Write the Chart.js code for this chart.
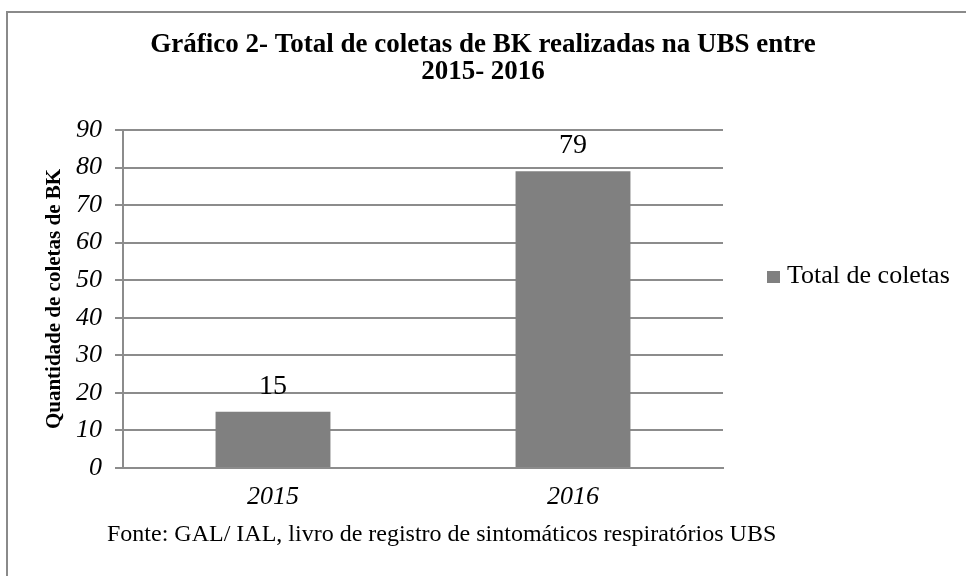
<!DOCTYPE html>
<html>
<head>
<meta charset="utf-8">
<script src="https://cdn.jsdelivr.net/npm/chart.js@4.4.1/dist/chart.umd.min.js"></script>
<style>
  html, body { margin: 0; padding: 0; background: #fff; overflow: hidden; }
  #frame {
    position: absolute; left: 6px; top: 11px; width: 2000px; height: 2000px;
    border-left: 2px solid #8a8a8a; border-top: 2px solid #8a8a8a;
  }
  #wrap { position: absolute; left: 0; top: 0; width: 966px; height: 576px; }
</style>
</head>
<body>
<div id="frame"></div>
<div id="wrap"><canvas id="chart"></canvas></div>
<script>
// data
const categories = ['2015', '2016'];
const totalColetas = [15, 79];
const seriesName = 'Total de coletas';
const titleLines = ['Gráfico 2- Total de coletas de BK realizadas na UBS entre', '2015- 2016'];
const yAxisTitle = 'Quantidade de coletas de BK';
const footerText = 'Fonte: GAL/ IAL, livro de registro de sintomáticos respiratórios UBS';

const SERIF = "'Liberation Serif', 'Times New Roman', serif";
const GRID = '#8c8c8c';

// value labels above each bar
const barLabels = {
  id: 'barLabels',
  afterDatasetsDraw(chart) {
    const ctx = chart.ctx;
    const meta = chart.getDatasetMeta(0);
    ctx.save();
    ctx.font = `28px ${SERIF}`;
    ctx.fillStyle = '#000';
    ctx.textAlign = 'center';
    ctx.textBaseline = 'alphabetic';
    meta.data.forEach((bar, i) => {
      ctx.fillText(String(totalColetas[i]), bar.x, bar.y - 18);
    });
    ctx.restore();
  }
};

// legend to the right of the plot (built-in one gets squeezed by the layout)
const sideLegend = {
  id: 'sideLegend',
  afterDraw(chart) {
    const ctx = chart.ctx;
    const ds = chart.data.datasets[0];
    const x = chart.chartArea.right + 44;
    const y = 277;
    ctx.save();
    ctx.fillStyle = ds.backgroundColor;
    ctx.fillRect(x, y - 6, 13, 12);
    ctx.font = `26px ${SERIF}`;
    ctx.fillStyle = '#000';
    ctx.textAlign = 'left';
    ctx.textBaseline = 'middle';
    ctx.fillText(ds.label, x + 20, y - 1);
    ctx.restore();
  }
};

// source note under the axis
const footer = {
  id: 'footer',
  afterDraw(chart) {
    const ctx = chart.ctx;
    ctx.save();
    ctx.font = `24px ${SERIF}`;
    ctx.fillStyle = '#000';
    ctx.textAlign = 'left';
    ctx.textBaseline = 'alphabetic';
    ctx.fillText(footerText, 107, 541);
    ctx.restore();
  }
};

new Chart(document.getElementById('chart'), {
  type: 'bar',
  data: {
    labels: categories,
    datasets: [{
      label: seriesName,
      data: totalColetas,
      backgroundColor: '#808080',
      borderWidth: 0,
      barPercentage: 0.383,
      categoryPercentage: 1
    }]
  },
  options: {
    responsive: true,
    maintainAspectRatio: false,
    animation: false,
    layout: { padding: { left: 0, right: 0, top: 0, bottom: 22 } },
    plugins: {
      title: {
        display: true,
        text: titleLines,
        color: '#000',
        font: { family: SERIF, size: 27, weight: 'bold', lineHeight: 1.0 },
        padding: { top: 32, bottom: 44 }
      },
      legend: { display: false },
      tooltip: { enabled: false }
    },
    scales: {
      x: {
        grid: { display: false, drawTicks: false },
        border: { display: true, color: GRID, width: 2 },
        ticks: { color: '#000', font: { family: SERIF, size: 26, style: 'italic' }, padding: 14 },
        afterFit(scale) { scale.height = 86; }
      },
      y: {
        min: 0,
        max: 90,
        ticks: {
          stepSize: 10,
          color: '#000',
          font: { family: SERIF, size: 26, style: 'italic' },
          padding: 13
        },
        grid: { color: GRID, lineWidth: 2, tickLength: 8, drawTicks: true },
        border: { display: true, color: GRID, width: 2 },
        title: {
          display: true,
          text: yAxisTitle,
          color: '#000',
          font: { family: SERIF, size: 21, weight: 'bold', lineHeight: 1.2 },
          padding: { top: 42, bottom: 0 }
        },
        afterFit(scale) { scale.width = 123; }
      },
      spacer: {
        type: 'linear',
        position: 'right',
        display: true,
        grid: { display: false },
        border: { display: false },
        ticks: { display: false },
        afterFit(scale) { scale.width = 243; }
      }
    }
  },
  plugins: [barLabels, sideLegend, footer]
});
</script>
</body>
</html>
